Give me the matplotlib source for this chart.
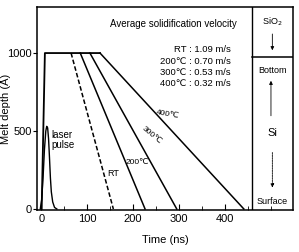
import matplotlib.pyplot as plt
from matplotlib.ticker import MultipleLocator

# melt front (rise + plateau), ns / Angstrom
melt_t = [1, 8, 128]
melt_d = [0, 1000, 1000]

# solidification lines: start time at 1000 A, end time at 0 A
sol_labels = ["RT", "200℃", "300℃", "400℃"]
sol_start = [65, 85, 106, 128]
sol_end = [157, 226, 295, 441]
sol_velocity = ["1.09", "0.70", "0.53", "0.32"]

# laser pulse shape (arbitrary units drawn on depth scale)
pulse_t = [-2, 1, 4, 7, 10, 12, 14, 16, 18, 20, 22, 25, 29, 34]
pulse_d = [0, 60, 200, 380, 500, 530, 520, 450, 330, 200, 110, 45, 10, 0]

plt.rcParams['font.family'] = ['Liberation Sans', 'DejaVu Sans']

fig = plt.figure(figsize=(2.99, 2.52), dpi=100)
ax = fig.add_axes([0.124, 0.167, 0.856, 0.805])

ax.plot(melt_t, melt_d, color="black", lw=1.3)
ax.plot(pulse_t, pulse_d, color="black", lw=1.0)

for lab, t0, t1 in zip(sol_labels, sol_start, sol_end):
    ls = "--" if lab == "RT" else "-"
    ax.plot([t0, t1], [1000, 0], color="black", lw=1.1, ls=ls,
            dashes=(3, 1.5) if lab == "RT" else (None, None))

ax.set_xlim(-9, 548)
ax.set_ylim(-6, 1295)
ax.set_xticks([0, 100, 200, 300, 400])
ax.xaxis.set_minor_locator(MultipleLocator(50))
ax.set_yticks([0, 500, 1000])
ax.tick_params(axis="x", direction="in", length=4, labelsize=8, pad=3)
ax.tick_params(axis="x", which="minor", direction="in", length=3)
ax.tick_params(axis="y", direction="out", length=3, labelsize=8, pad=1)
for s in ax.spines.values():
    s.set_linewidth(1.1)

ax.set_xlabel("Time (ns)", fontsize=8, labelpad=8)
ax.set_ylabel("Melt depth (Å)", fontsize=8)
ax.yaxis.set_label_coords(-0.10, 0.5)

# side panel
ax.axvline(458, color="black", lw=1.0)
ax.plot([458, 548], [975, 975], color="black", lw=1.1)
ax.text(503, 1200, "SiO$_2$", ha="center", va="center", fontsize=6.5)
ax.annotate("", xy=(503, 1000), xytext=(503, 1140),
            arrowprops=dict(arrowstyle="-|>", color="black", lw=0.6,
                            mutation_scale=5))
ax.text(503, 890, "Bottom", ha="center", va="center", fontsize=6.5)
ax.annotate("", xy=(500, 840), xytext=(500, 580),
            arrowprops=dict(arrowstyle="-|>", color="black", lw=0.6,
                            mutation_scale=5))
ax.text(503, 485, "Si", ha="center", va="center", fontsize=8)
ax.annotate("", xy=(503, 120), xytext=(503, 380),
            arrowprops=dict(arrowstyle="-|>", color="black", lw=0.6,
                            ls=(0, (2, 1)), mutation_scale=5))
ax.text(503, 45, "Surface", ha="center", va="center", fontsize=6.5)

# velocity legend
ax.text(287, 1185, "Average solidification velocity", ha="center",
        va="center", fontsize=7)
for i, (lab, v) in enumerate(zip(sol_labels, sol_velocity)):
    y = 1020 - i * 72
    ax.text(412, y, lab + " : " + v + " m/s", ha="right", va="center",
            fontsize=6.8)

# line labels
ax.text(276, 603, "400℃", fontsize=6, ha="center", va="center", rotation=-10)
ax.text(241, 474, "300℃", fontsize=6, ha="center", va="center", rotation=-40)
ax.text(209, 300, "200℃", fontsize=6, ha="center", va="center")
ax.text(157, 230, "RT", fontsize=6.5, ha="center", va="center")
ax.text(22, 440, "laser\npulse", fontsize=7, ha="left", va="center",
        linespacing=1.0)

fig.savefig("out.png", dpi=100)
